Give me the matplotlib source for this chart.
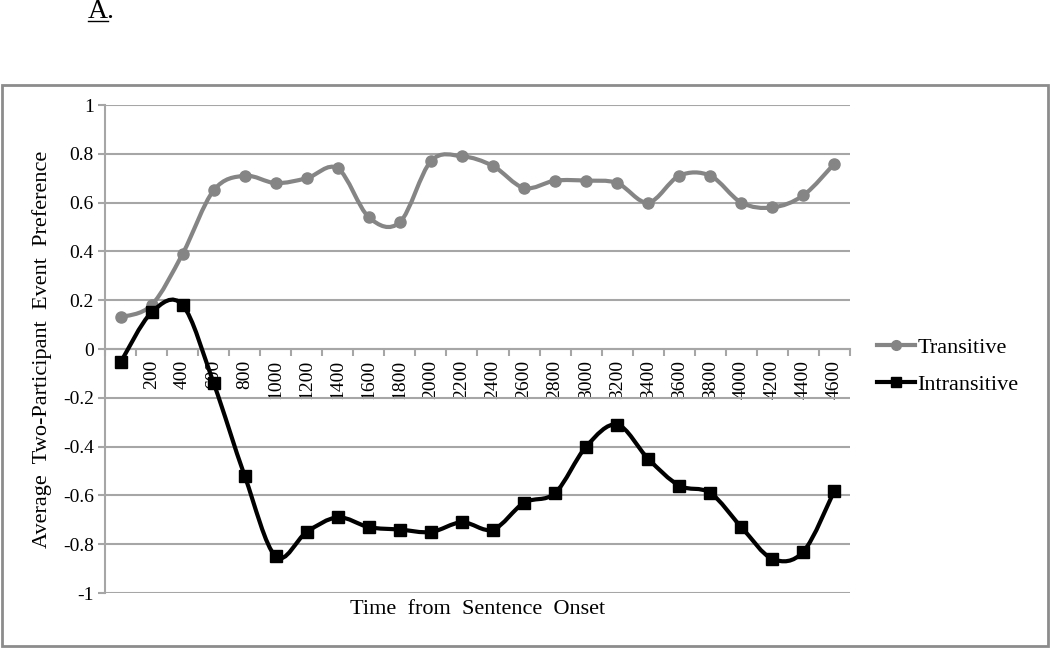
import numpy as np
import matplotlib
matplotlib.use("Agg")
import matplotlib.pyplot as plt
from matplotlib.path import Path
from matplotlib.patches import PathPatch, Rectangle
from matplotlib.lines import Line2D

plt.rcParams['font.family'] = ['Liberation Serif', 'DejaVu Serif']

# time bins (ms from sentence onset)
times = [0, 200, 400, 600, 800, 1000, 1200, 1400, 1600, 1800, 2000, 2200,
         2400, 2600, 2800, 3000, 3200, 3400, 3600, 3800, 4000, 4200, 4400, 4600]
tick_labels = [""] + [str(t) for t in times[1:]]

transitive = [0.13, 0.18, 0.39, 0.65, 0.71, 0.68, 0.70, 0.74, 0.54, 0.52, 0.77, 0.79,
              0.75, 0.66, 0.69, 0.69, 0.68, 0.60, 0.71, 0.71, 0.60, 0.58, 0.63, 0.76]
intransitive = [-0.055, 0.15, 0.18, -0.14, -0.52, -0.85, -0.75, -0.69, -0.73, -0.74, -0.75, -0.71,
                -0.74, -0.63, -0.59, -0.40, -0.31, -0.45, -0.56, -0.59, -0.73, -0.86, -0.83, -0.58]

GRAY = "#858585"
GRID = "#a6a6a6"


# smooth curve like the spreadsheet "smoothed line" option (catmull-rom bezier)
def smooth_path(xs, ys, t=1.0/6.0):
    p = np.column_stack([xs, ys]).astype(float)
    n = len(p)
    verts = [p[0]]
    codes = [Path.MOVETO]
    for i in range(n - 1):
        p0 = p[i - 1] if i > 0 else p[i]
        p3 = p[i + 2] if i + 2 < n else p[i + 1]
        c1 = p[i] + (p[i + 1] - p0) * t
        c2 = p[i + 1] - (p3 - p[i]) * t
        verts += [c1, c2, p[i + 1]]
        codes += [Path.CURVE4] * 3
    return Path(verts, codes)


fig = plt.figure(figsize=(10.5, 6.48), dpi=100)
ax = fig.add_axes([105/1050, 1 - 593/648, (850 - 105)/1050, (593 - 105)/648])

x = np.arange(len(times))

ax.set_xlim(-0.5, len(times) - 0.5)
ax.set_ylim(-1, 1)

# grid lines
ax.set_yticks(np.arange(-1, 1.01, 0.2))
ax.set_yticklabels(["-1", "-0.8", "-0.6", "-0.4", "-0.2", "0", "0.2", "0.4", "0.6", "0.8", "1"])
ax.yaxis.grid(True, color=GRID, linewidth=1.5)
ax.set_axisbelow(True)

for s in ['top', 'right']:
    ax.spines[s].set_visible(False)
ax.spines['left'].set_color(GRID)
ax.spines['left'].set_linewidth(1.5)
ax.spines['bottom'].set_position(('data', 0))
ax.spines['bottom'].set_color(GRID)
ax.spines['bottom'].set_linewidth(1.5)

ax.tick_params(axis='y', length=5, width=1.5, color=GRID, pad=3, labelsize=14)

# category ticks between bins, labels at bins
ax.set_xticks(np.arange(-0.5, len(times), 1.0))
ax.set_xticklabels([])
ax.set_xticks(x, minor=True)
ax.set_xticklabels(tick_labels, minor=True, rotation=90, fontsize=14)
ax.tick_params(axis='x', which='major', length=5, width=1.5, color=GRID, direction='out')
ax.tick_params(axis='x', which='minor', length=0, pad=8)

# lines
ax.add_patch(PathPatch(smooth_path(x, transitive), facecolor='none', edgecolor=GRAY,
                       linewidth=3, zorder=3))
ax.plot(x, transitive, linestyle='none', marker='o', markersize=8, color=GRAY, zorder=4)
ax.add_patch(PathPatch(smooth_path(x, intransitive), facecolor='none', edgecolor='black',
                       linewidth=3, zorder=5))
ax.plot(x, intransitive, linestyle='none', marker='s', markersize=8, color='black', zorder=6)

ax.set_ylabel("Average  Two-Participant  Event  Preference", fontsize=16, labelpad=8)
ax.set_xlabel("Time  from  Sentence  Onset", fontsize=16)
ax.xaxis.set_label_coords(0.5, -0.014)

handles = [Line2D([], [], color=GRAY, linewidth=3, marker='o', markersize=7),
           Line2D([], [], color='black', linewidth=3, marker='s', markersize=7)]
fig.legend(handles, ["Transitive", "Intransitive"], loc='center left',
           bbox_to_anchor=(866/1050, 1 - 366/648), frameon=False, fontsize=16,
           handlelength=1.7, handletextpad=0.1, labelspacing=0.75, borderpad=0)

# outer chart border
fig.add_artist(Rectangle((2/1050, 2/648), 1046/1050, (646 - 85)/648, transform=fig.transFigure,
                         facecolor='none', edgecolor='#8c8c8c', linewidth=2))

# panel letter
fig.text(88/1050, 1 - 18/648, "A.", fontsize=20, ha='left', va='baseline')
fig.add_artist(Line2D([88/1050, 108/1050], [1 - 21/648, 1 - 21/648], transform=fig.transFigure,
                      color='black', linewidth=1))

fig.savefig("out.png", dpi=100)
